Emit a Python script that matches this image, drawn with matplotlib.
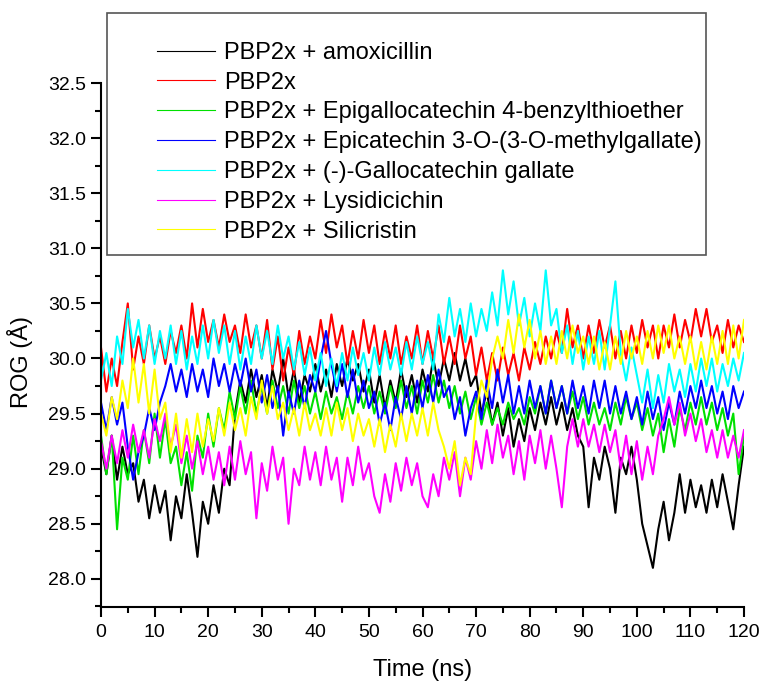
"""
ROG of PBP2x complexes over 120 ns
"""
import numpy as np
import matplotlib
matplotlib.use("Agg")
import matplotlib.pyplot as plt
from matplotlib.patches import Rectangle

plt.rcParams['font.family'] = ['Liberation Sans', 'DejaVu Sans']

time_ns = np.arange(0, 121, 1)

labels = ["PBP2x + amoxicillin",
          "PBP2x",
          "PBP2x + Epigallocatechin 4-benzylthioether",
          "PBP2x + Epicatechin 3-O-(3-O-methylgallate)",
          "PBP2x + (-)-Gallocatechin gallate",
          "PBP2x + Lysidicichin",
          "PBP2x + Silicristin"]
colors = ["#000000", "#ff0000", "#00e000", "#0000ff", "#00ffff", "#ff00ff", "#ffff00"]

# values, one per ns
rog_amox = [29.2, 28.95, 29.3, 28.9, 29.2, 28.95, 29.05, 28.7, 28.9, 28.55,
            28.85, 28.6, 28.8, 28.35, 28.75, 28.55, 28.95, 28.6, 28.2, 28.7,
            28.5, 28.85, 28.6, 29.0, 28.85, 29.5, 29.8, 29.6, 29.9, 29.65,
            29.85, 29.55, 29.9, 29.7, 30.0, 29.65, 29.9, 29.6, 29.85, 29.7,
            29.95, 29.7, 29.9, 29.65, 29.95, 29.75, 30.0, 29.8, 29.95, 29.7,
            29.9, 29.6, 29.85, 29.55, 29.8, 29.6, 29.9, 29.65, 29.85, 29.6,
            29.9, 29.7, 30.0, 29.75, 30.0, 29.8, 30.05, 29.8, 30.0, 29.75,
            29.85, 29.5, 29.7, 29.4, 29.6, 29.3, 29.55, 29.2, 29.45, 29.25,
            29.55, 29.35, 29.6, 29.4, 29.65, 29.4, 29.6, 29.35, 29.55, 29.3,
            29.2, 28.65, 29.1, 28.9, 29.2, 29.0, 28.6, 29.1, 28.95, 29.2,
            28.9, 28.5, 28.3, 28.1, 28.45, 28.7, 28.35, 28.6, 28.95, 28.6,
            28.9, 28.65, 28.85, 28.6, 28.9, 28.65, 28.95, 28.7, 28.45, 28.85,
            29.2]
rog_apo = [30.1, 29.7, 30.0, 29.75, 30.15, 30.5, 29.9, 30.2, 29.95, 30.3,
           30.0, 30.2, 29.95, 30.25, 30.05, 30.3, 30.0, 30.5, 30.1, 30.45,
           30.15, 30.35, 30.1, 30.4, 30.15, 30.3, 30.05, 30.4, 30.1, 30.3,
           30.0, 30.35, 29.9, 30.2, 29.8, 30.1, 29.85, 30.25, 29.95, 30.2,
           30.0, 30.35, 30.05, 30.4, 30.1, 30.3, 29.95, 30.25, 30.0, 30.35,
           30.05, 30.3, 29.95, 30.25, 30.0, 30.3, 29.95, 30.2, 30.0, 30.3,
           29.95, 30.25, 30.0, 30.3, 29.95, 30.2, 29.95, 30.3, 30.0, 30.2,
           29.85, 30.1, 29.8, 30.05, 29.8, 30.1, 29.85, 30.05, 29.8, 30.1,
           29.9, 30.15, 29.95, 30.2, 30.0, 30.25, 30.05, 30.45, 30.1, 30.3,
           30.0, 30.3, 30.05, 30.35, 30.1, 30.3, 30.0, 30.25, 30.0, 30.3,
           30.05, 30.35, 30.1, 30.3, 30.0, 30.3, 30.1, 30.4, 30.1, 30.35,
           30.15, 30.45, 30.2, 30.45, 30.15, 30.3, 30.05, 30.35, 30.1, 30.3,
           30.15]
rog_egc_bte = [29.3, 28.95, 29.3, 28.45, 29.1, 28.9, 29.3, 28.95, 29.35, 29.05,
               29.5, 29.1, 29.45, 29.05, 29.2, 28.85, 29.15, 28.8, 29.3, 29.1,
               29.5, 29.2, 29.55, 29.35, 29.7, 29.45, 29.75, 29.5, 29.8, 29.5,
               29.75, 29.5, 29.8, 29.55, 29.75, 29.5, 29.8, 29.55, 29.75, 29.5,
               29.7, 29.45, 29.7, 29.5, 29.65, 29.45, 29.7, 29.5, 29.75, 29.55,
               29.75, 29.5, 29.7, 29.5, 29.75, 29.55, 29.8, 29.55, 29.75, 29.5,
               29.8, 29.6, 29.85, 29.6, 29.8, 29.55, 29.75, 29.5, 29.7, 29.45,
               29.65, 29.4, 29.6, 29.4, 29.55, 29.4, 29.6, 29.45, 29.55, 29.4,
               29.65, 29.5, 29.75, 29.5, 29.8, 29.55, 29.75, 29.5, 29.7, 29.45,
               29.65, 29.4, 29.6, 29.4, 29.55, 29.35, 29.6, 29.4, 29.65, 29.45,
               29.6, 29.35, 29.55, 29.3, 29.5, 29.15, 29.45, 29.2, 29.55, 29.35,
               29.6, 29.4, 29.65, 29.4, 29.6, 29.35, 29.55, 29.3, 29.5, 28.95,
               29.3]
rog_ec_mg = [29.6, 29.35, 29.65, 29.4, 29.6, 29.2, 28.9, 29.15, 29.3, 29.55,
             29.35, 29.6, 29.75, 29.95, 29.7, 29.9, 29.65, 29.95, 29.7, 29.9,
             29.65, 30.0, 29.75, 29.95, 29.7, 29.95, 29.75, 30.0, 29.7, 29.9,
             29.6, 29.85, 29.55, 29.75, 29.3, 29.7, 29.5, 29.8, 29.55, 29.85,
             29.7, 30.0, 30.25, 29.95, 29.7, 29.95, 29.65, 29.9, 29.6, 29.8,
             29.55, 29.7, 29.4, 29.6, 29.35, 29.65, 29.45, 29.75, 29.5, 29.8,
             29.55, 29.85, 29.6, 29.9, 29.65, 29.75, 29.45, 29.65, 29.3, 29.55,
             29.7, 29.45, 29.8, 29.55, 29.9, 29.6, 29.85, 29.5, 29.75, 29.5,
             29.8, 29.55, 29.75, 29.5, 29.8, 29.55, 29.75, 29.5, 29.8, 29.55,
             29.75, 29.5, 29.8, 29.55, 29.8, 29.5, 29.75, 29.5, 29.7, 29.45,
             29.65, 29.4, 29.7, 29.45, 29.65, 29.35, 29.6, 29.4, 29.7, 29.5,
             29.75, 29.55, 29.8, 29.55, 29.75, 29.5, 29.7, 29.45, 29.75, 29.55,
             29.7]
rog_gcg = [29.8, 30.05, 29.75, 30.2, 29.95, 30.45, 30.1, 30.35, 30.0, 30.3,
           29.95, 30.25, 30.0, 30.3, 29.95, 30.25, 29.9, 30.2, 29.95, 30.3,
           30.0, 30.35, 30.05, 30.3, 29.95, 30.25, 29.9, 30.2, 29.95, 30.3,
           30.0, 30.25, 29.95, 30.3, 30.0, 30.2, 29.9, 30.15, 29.85, 30.1,
           29.8, 30.05, 29.75, 30.0, 29.75, 30.05, 29.8, 30.1, 29.85, 30.05,
           29.8, 30.1, 29.85, 30.15, 29.9, 30.1, 29.85, 30.15, 29.9, 30.2,
           29.95, 30.15, 29.9, 30.4, 30.15, 30.55, 30.2, 30.45, 30.15, 30.5,
           30.2, 30.45, 30.25, 30.6, 30.3, 30.8, 30.4, 30.7, 30.3, 30.55,
           30.2, 30.5, 30.25, 30.8, 30.3, 30.45, 30.05, 30.3, 29.95, 30.25,
           29.9, 30.2, 29.95, 30.25, 29.9, 30.3, 30.7, 30.05, 29.8, 30.1,
           29.85, 29.6, 29.9, 29.55, 29.85, 29.6, 29.95, 29.7, 29.9, 29.65,
           29.95, 29.7, 30.0, 29.75, 30.0, 29.7, 29.95, 29.75, 30.0, 29.8,
           30.05]
rog_lys = [29.25, 29.0, 29.3, 29.05, 29.35, 29.1, 29.4, 29.15, 29.35, 29.1,
           29.45, 29.25, 29.5, 29.2, 29.4, 29.05, 29.3, 29.0, 29.25, 28.95,
           29.2, 28.9, 29.15, 28.85, 29.2, 28.9, 29.25, 28.95, 29.15, 28.55,
           29.05, 28.8, 29.2, 28.9, 29.1, 28.5, 29.0, 28.85, 29.2, 28.9,
           29.15, 28.85, 29.2, 28.9, 29.1, 28.7, 29.1, 28.85, 29.2, 28.9,
           29.05, 28.75, 28.6, 28.95, 28.7, 29.05, 28.8, 29.1, 28.85, 29.05,
           28.75, 28.65, 28.95, 28.75, 29.1, 28.9, 29.15, 28.75, 29.1, 28.9,
           29.25, 29.0, 29.35, 29.05, 29.4, 29.1, 29.3, 28.95, 29.25, 28.9,
           29.3, 29.05, 29.35, 29.0, 29.3, 29.0, 28.65, 29.2, 29.45, 29.2,
           29.45, 29.2, 29.4, 29.15, 29.4, 29.15, 29.35, 29.0, 29.3, 28.95,
           29.25, 28.9, 29.2, 28.95, 29.3, 29.45, 29.65, 29.4, 29.6, 29.3,
           29.5, 29.25, 29.45, 29.15, 29.35, 29.1, 29.35, 29.1, 29.3, 29.1,
           29.35]
rog_sil = [29.5, 29.3, 29.65, 29.45, 29.8, 29.55, 30.0, 29.6, 29.95, 29.5,
           29.9, 29.45, 29.6, 29.15, 29.5, 29.1, 29.45, 29.15, 29.5, 29.2,
           29.45, 29.25, 29.55, 29.3, 29.6, 29.35, 29.55, 29.3, 29.65, 29.45,
           29.8, 29.5, 29.75, 29.45, 29.6, 29.35, 29.55, 29.3, 29.6, 29.35,
           29.5, 29.3, 29.55, 29.3, 29.6, 29.35, 29.55, 29.25, 29.5, 29.3,
           29.45, 29.2, 29.45, 29.15, 29.4, 29.2, 29.5, 29.25, 29.5, 29.3,
           29.55, 29.3, 29.6, 29.35, 29.2, 29.0, 29.25, 28.85, 29.1, 28.95,
           29.5, 29.8, 29.65, 30.0, 30.2, 30.0, 30.35, 30.05, 30.4, 30.1,
           30.35, 30.0, 30.25, 29.95, 30.2, 29.95, 30.25, 30.0, 30.3, 30.05,
           30.2, 29.95, 30.2, 29.9, 30.15, 29.9, 30.2, 29.95, 30.25, 30.0,
           30.2, 29.95, 30.25, 30.0, 30.3, 30.05, 30.3, 30.0, 30.2, 29.95,
           30.2, 29.9, 30.15, 29.9, 30.2, 29.95, 30.25, 29.95, 30.3, 30.0,
           30.35]

series = [rog_amox, rog_apo, rog_egc_bte, rog_ec_mg, rog_gcg, rog_lys, rog_sil]

W, H = 761, 682
fig = plt.figure(figsize=(W / 100, H / 100), dpi=100)
ax = fig.add_axes([101 / W, 1 - 607 / H, (744 - 101) / W, (607 - 83) / H])

lines = []
for vals, col, lab in zip(series, colors, labels):
    ln, = ax.plot(time_ns, vals, color=col, lw=1.5, label=lab)
    lines.append(ln)

ax.set_xlim(0, 120)
ax.set_ylim(27.745, 32.5)
ax.set_xticks(np.arange(0, 121, 10))
ax.set_xticks(np.arange(5, 121, 10), minor=True)
ax.set_yticks(np.arange(28.0, 32.51, 0.5))
ax.set_yticks(np.arange(27.75, 32.5, 0.5), minor=True)
ax.set_yticklabels(["%.1f" % v for v in np.arange(28.0, 32.51, 0.5)])

ax.spines['top'].set_visible(False)
ax.spines['right'].set_visible(False)
for s in ['left', 'bottom']:
    ax.spines[s].set_linewidth(1.5)
ax.tick_params(axis='both', which='major', direction='out', length=7, width=1.5, labelsize=14)
ax.tick_params(axis='both', which='minor', direction='out', length=4.5, width=1.5)
ax.tick_params(axis='x', which='major', pad=5)
ax.tick_params(axis='y', which='major', pad=4)

ax.set_xlabel("Time (ns)", fontsize=17)
ax.xaxis.set_label_coords(0.5, -0.099)
ax.set_ylabel("ROG (Å)", fontsize=17)
ax.yaxis.set_label_coords(-0.105, 0.4676)

# legend box (drawn separately, Origin style)
fig.patches.append(Rectangle((107 / W, 1 - 255 / H), (706 - 107) / W, (255 - 13) / H,
                             transform=fig.transFigure, fill=False,
                             edgecolor='#555555', lw=1.2))
leg = fig.legend(handles=lines, loc='upper left', bbox_to_anchor=(145 / W, 1 - 30 / H),
                 frameon=False, fontsize=17, borderpad=0, labelspacing=0.33,
                 handlelength=2.45, handletextpad=0.38)
for h in leg.legend_handles:
    h.set_linewidth(0.8)

fig.savefig("out.png", dpi=100)
